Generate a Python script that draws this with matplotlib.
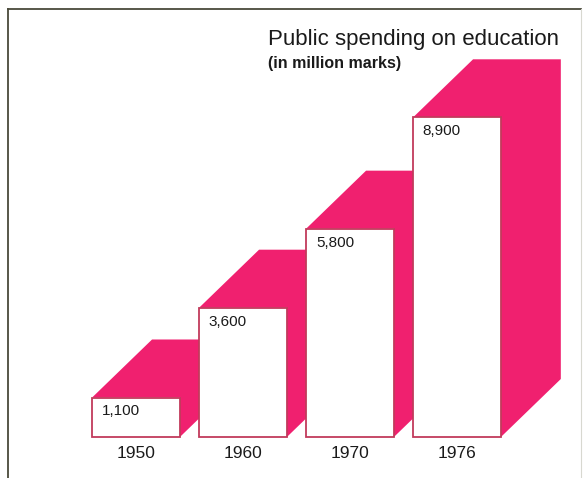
import matplotlib
matplotlib.use("Agg")
import matplotlib.pyplot as plt
from matplotlib.patches import Polygon, Rectangle
from matplotlib.lines import Line2D

plt.rcParams['font.family'] = ['Liberation Sans', 'DejaVu Sans']

# data
years = ['1950', '1960', '1970', '1976']
spending = [1100, 3600, 5800, 8900]
value_labels = ['1,100', '3,600', '5,800', '8,900']

pink = '#f0206f'
edge = '#c23a5c'

fig = plt.figure(figsize=(5.88, 4.78), dpi=100)
ax = fig.add_axes([0, 0, 1, 1])
ax.set_xlim(-1.271, 4.224)
ax.set_ylim(-1141, 12166)
ax.axis('off')

width = 0.82
dx, dy = 0.56, 1615  # depth of the fake 3d boxes

for i, (yr, val, lab) in enumerate(zip(years, spending, value_labels)):
    x0 = i - width / 2
    x1 = i + width / 2
    # top + side faces
    ax.add_patch(Polygon([(x0, val), (x0 + dx, val + dy), (x1 + dx, val + dy),
                          (x1 + dx, dy), (x1, 0), (x1, val)],
                         closed=True, facecolor=pink, edgecolor='none', zorder=2 + i))
    # front face
    ax.add_patch(Rectangle((x0, 0), width, val, facecolor='white',
                           edgecolor=edge, linewidth=1.3, zorder=2 + i))
    ax.annotate(lab, (x0, val), xytext=(7, -10), textcoords='offset points',
                ha='left', va='center', fontsize=11, color='#1a1a1a', zorder=10)
    ax.annotate(yr, (i, 0), xytext=(0, -12), textcoords='offset points',
                ha='center', va='center', fontsize=12.5, color='#1a1a1a', zorder=10)

fig.text(268 / 588, 1 - 45 / 478, 'Public spending on education', fontsize=16,
         color='#1a1a1a', ha='left', va='baseline')
fig.text(268 / 588, 1 - 68 / 478, '(in million marks)', fontsize=11.5, fontweight='bold',
         color='#1a1a1a', ha='left', va='baseline')

# frame
fx0, fx1, fy = 8 / 588, 581 / 588, 1 - 9 / 478
fig.add_artist(Line2D([fx0, fx1], [fy, fy], color='#4a4a3a', lw=1.3, transform=fig.transFigure))
fig.add_artist(Line2D([fx0, fx0], [0, fy], color='#4a4a3a', lw=1.3, transform=fig.transFigure))
fig.add_artist(Line2D([fx1, fx1], [0, fy], color='#d8d8d0', lw=0.8, transform=fig.transFigure))

fig.savefig('out.png', dpi=100)
